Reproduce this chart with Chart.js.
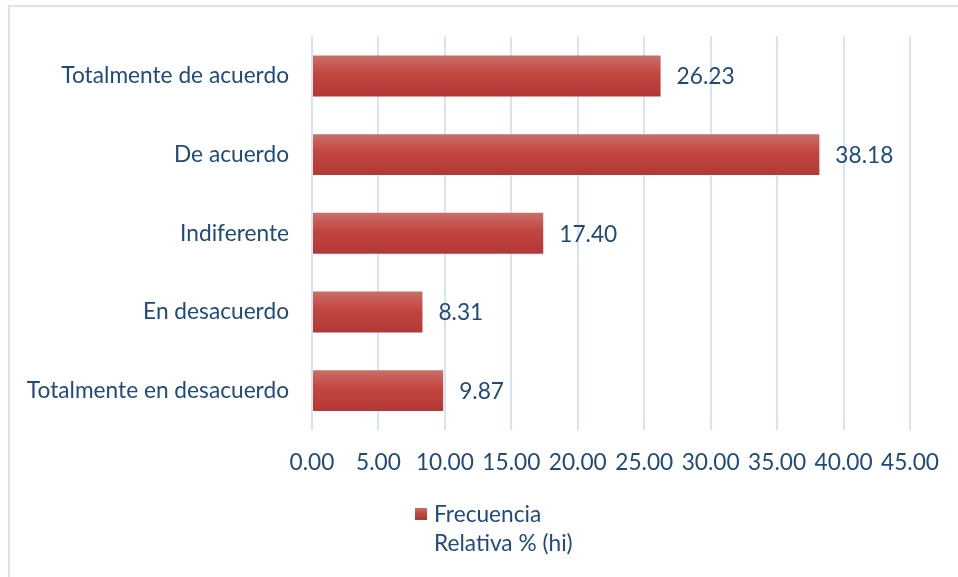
<!DOCTYPE html>
<html>
<head>
<meta charset="utf-8">
<script src="https://cdn.jsdelivr.net/npm/chart.js@4.4.1/dist/chart.umd.min.js"></script>
<style>
  html, body { margin: 0; padding: 0; background: #ffffff; }
  #wrap { width: 958px; height: 577px; position: relative; }
</style>
</head>
<body>
<div id="wrap"><canvas id="chart" width="958" height="577"></canvas></div>
<script>
// Survey answers and their relative frequency (%)
const categories = [
  'Totalmente de acuerdo',
  'De acuerdo',
  'Indiferente',
  'En desacuerdo',
  'Totalmente en desacuerdo'
];
const relativeFrequency = [26.23, 38.18, 17.40, 8.31, 9.87];
const seriesLabel = ['Frecuencia', 'Relativa % (hi)'];
const xTickValues = [0, 5, 10, 15, 20, 25, 30, 35, 40, 45];

const TEXT_COLOR = '#1F4A7C';
const GRID_COLOR = '#d7e4f5';
const FONT_FAMILY = 'Lato, "Noto Sans", sans-serif';
const FONT_SIZE = 22.7;

function barGradient(ctx, top, bottom) {
  const g = ctx.createLinearGradient(0, top, 0, bottom);
  g.addColorStop(0, '#c96f69');
  g.addColorStop(0.45, '#c2453f');
  g.addColorStop(1, '#b33836');
  return g;
}

// Light frame around the chart
const framePlugin = {
  id: 'frame',
  beforeDraw(chart) {
    const ctx = chart.ctx;
    ctx.save();
    ctx.strokeStyle = '#d6e3f3';
    ctx.lineWidth = 2;
    ctx.beginPath();
    ctx.moveTo(9, chart.height);
    ctx.lineTo(9, 6);
    ctx.lineTo(chart.width, 6);
    ctx.stroke();
    ctx.restore();
  }
};

// Vertical shading on each bar (each bar gets its own options copy)
const shadePlugin = {
  id: 'shade',
  beforeDatasetsDraw(chart) {
    const ctx = chart.ctx;
    chart.getDatasetMeta(0).data.forEach(el => {
      const top = el.y - el.height / 2;
      el.options = Object.assign({}, el.options, {
        backgroundColor: barGradient(ctx, top, top + el.height)
      });
    });
  }
};

// Value printed to the right of each bar
const valueLabelPlugin = {
  id: 'valueLabels',
  afterDatasetsDraw(chart) {
    const ctx = chart.ctx;
    const ds = chart.data.datasets[0];
    ctx.save();
    ctx.fillStyle = TEXT_COLOR;
    ctx.font = FONT_SIZE + 'px ' + FONT_FAMILY;
    ctx.textAlign = 'left';
    ctx.textBaseline = 'middle';
    chart.getDatasetMeta(0).data.forEach((el, i) => {
      ctx.fillText(ds.data[i].toFixed(2), el.x + 16, el.y + 1);
    });
    ctx.restore();
  }
};

// Legend below the axis, label on two lines
const legendPlugin = {
  id: 'bottomLegend',
  afterDraw(chart) {
    const ctx = chart.ctx;
    const boxX = 415, boxY = 508, box = 12;
    ctx.save();
    ctx.fillStyle = barGradient(ctx, boxY, boxY + box);
    ctx.fillRect(boxX, boxY, box, box);
    ctx.fillStyle = TEXT_COLOR;
    ctx.font = FONT_SIZE + 'px ' + FONT_FAMILY;
    ctx.textAlign = 'left';
    ctx.textBaseline = 'middle';
    seriesLabel.forEach((line, i) => {
      ctx.fillText(line, 434, 515 + i * 29);
    });
    ctx.restore();
  }
};

new Chart(document.getElementById('chart'), {
  type: 'bar',
  data: {
    labels: categories,
    datasets: [{
      label: seriesLabel.join(' '),
      data: relativeFrequency,
      backgroundColor: '#c0504d',
      borderWidth: 0,
      barPercentage: 0.52,
      categoryPercentage: 1
    }]
  },
  options: {
    indexAxis: 'y',
    responsive: false,
    devicePixelRatio: 1,
    animation: false,
    layout: { padding: { left: 0, right: 42, top: 35, bottom: 87 } },
    plugins: {
      legend: { display: false },
      tooltip: { enabled: false }
    },
    scales: {
      x: {
        min: 0,
        max: 45,
        afterBuildTicks(scale) {
          scale.ticks = xTickValues.map(v => ({ value: v }));
        },
        afterFit(scale) { scale.height = 60; },
        grid: { color: GRID_COLOR, lineWidth: 2, drawTicks: false },
        border: { display: false },
        ticks: {
          color: TEXT_COLOR,
          font: { family: FONT_FAMILY, size: FONT_SIZE },
          padding: 19,
          maxRotation: 0,
          autoSkip: false,
          callback: v => Number(v).toFixed(2)
        }
      },
      y: {
        afterFit(scale) { scale.width = 312; },
        grid: { display: false, drawTicks: false },
        border: { display: false },
        ticks: {
          color: TEXT_COLOR,
          font: { family: FONT_FAMILY, size: FONT_SIZE },
          padding: 23
        }
      }
    }
  },
  plugins: [framePlugin, shadePlugin, valueLabelPlugin, legendPlugin]
});
</script>
</body>
</html>
